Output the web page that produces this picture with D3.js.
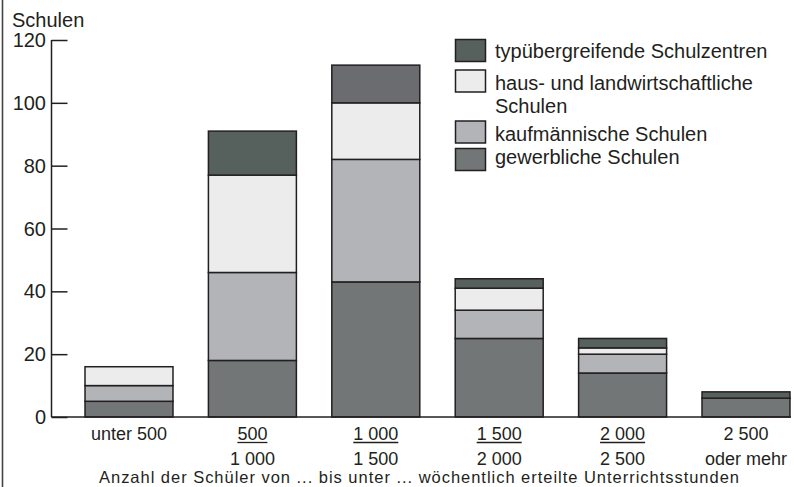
<!DOCTYPE html>
<html><head><meta charset="utf-8">
<script src="https://cdn.jsdelivr.net/npm/d3@7"></script>
<style>body{margin:0;background:#fff}svg{display:block;font-family:"Liberation Sans",Arial,sans-serif}</style>
</head><body><svg id="c" width="794" height="487"></svg>
<script>
const categories = ["unter 500", "500|1 000", "1 000|1 500", "1 500|2 000", "2 000|2 500", "2 500|oder mehr"];
const gewerbliche = [5, 18, 43, 25, 14, 6];
const kaufmaennische = [5, 28, 39, 9, 6, 0];
const hausLand = [6, 31, 18, 7, 2, 0];
const typuebergreifend = [0, 14, 12, 3, 3, 2];
const seriesNames = ["gewerbliche Schulen", "kaufmännische Schulen", "haus- und landwirtschaftliche|Schulen", "typübergreifende Schulzentren"];
const yTicks = [0, 20, 40, 60, 80, 100, 120];
const yTitle = "Schulen";
const xTitle = "Anzahl der Schüler von ... bis unter ... wöchentlich erteilte Unterrichtsstunden";

const colors = ["#727676", "#b3b4b8", "#ececec", "#56605c"];
const ink = "#231f20";
const svg = d3.select("#c");

const keys = ["g", "k", "h", "t"];
const table = categories.map((c, i) => ({cat: c, g: gewerbliche[i], k: kaufmaennische[i], h: hausLand[i], t: typuebergreifend[i]}));
const stacked = d3.stack().keys(keys)(table);

const x = d3.scaleBand().domain(categories).range([67.3, 807.7]).paddingInner(0.287).paddingOuter(0.1435);
const y = d3.scaleLinear().domain([0, 120]).range([417, 40]);

// left frame line
svg.append("line").attr("x1", 2.5).attr("x2", 2.5).attr("y1", 0).attr("y2", 487).attr("stroke", "#444").attr("stroke-width", 1.6);

// bars
stacked.forEach((s, si) => {
  svg.append("g").selectAll("rect").data(s.filter(d => d[1] > d[0])).join("rect")
    .attr("x", d => x(d.data.cat))
    .attr("width", x.bandwidth())
    .attr("y", d => y(d[1]))
    .attr("height", d => y(d[0]) - y(d[1]))
    .attr("fill", d => (si === 3 && d.data.cat === categories[2]) ? "#6b6c70" : colors[si])
    .attr("stroke", ink).attr("stroke-width", 1.5);
});

// y axis
const yAxis = d3.axisRight(y).tickValues(yTicks).tickSize(16).tickFormat("");
const ya = svg.append("g").attr("transform", "translate(51.5,0)").call(yAxis);
ya.select(".domain").remove();
ya.selectAll(".tick line").attr("stroke", ink).attr("stroke-width", 1.5);
svg.append("line").attr("x1", 51.5).attr("x2", 51.5).attr("y1", y(120)).attr("y2", y(0)).attr("stroke", ink).attr("stroke-width", 1.5);
svg.append("g").selectAll("text").data(yTicks).join("text")
  .attr("x", 46).attr("y", d => y(d) + 7).attr("text-anchor", "end")
  .attr("font-size", 20).attr("fill", ink).text(d => d);
svg.append("text").attr("x", 12).attr("y", 27).attr("font-size", 20).attr("fill", ink).text(yTitle);

// x axis
svg.append("line").attr("x1", 51.5).attr("x2", 791).attr("y1", y(0)).attr("y2", y(0)).attr("stroke", ink).attr("stroke-width", 1.5);
categories.forEach(c => {
  const cx = x(c) + x.bandwidth() / 2;
  const parts = c.split("|");
  const t1 = svg.append("text").attr("x", cx).attr("y", 440).attr("text-anchor", "middle").attr("font-size", 18).attr("fill", ink).text(parts[0]);
  if (parts.length > 1) {
    svg.append("text").attr("x", cx).attr("y", 465).attr("text-anchor", "middle").attr("font-size", 18).attr("fill", ink).text(parts[1]);
    if (parts[1] !== "oder mehr") {
      const w = t1.node().getComputedTextLength();
      svg.append("line").attr("x1", cx - w / 2).attr("x2", cx + w / 2).attr("y1", 442.5).attr("y2", 442.5).attr("stroke", ink).attr("stroke-width", 1.3);
    }
  }
});
svg.append("text").attr("x", 419).attr("y", 483.3).attr("text-anchor", "middle").attr("font-size", 16.5)
  .attr("textLength", 640).attr("lengthAdjust", "spacing").attr("fill", ink).text(xTitle);

// legend
const legendOrder = [3, 2, 1, 0];
const swY = [39.5, 70, 121, 148.5];
const txtY = [58, 90, 141, 164];
legendOrder.forEach((si, i) => {
  svg.append("rect").attr("x", 455.5).attr("y", swY[i]).attr("width", 30).attr("height", 22)
    .attr("fill", colors[si]).attr("stroke", ink).attr("stroke-width", 1.5);
  const lines = seriesNames[si].split("|");
  lines.forEach((ln, li) => {
    svg.append("text").attr("x", 495).attr("y", txtY[i] + li * 23).attr("font-size", 20).attr("fill", ink).text(ln);
  });
});
</script></body></html>
